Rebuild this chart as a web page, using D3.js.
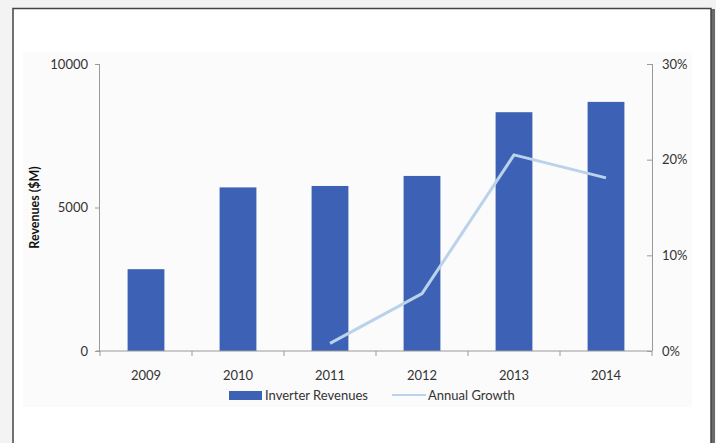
<!DOCTYPE html>
<html>
<head>
<meta charset="utf-8">
<script src="https://cdn.jsdelivr.net/npm/d3@7"></script>
<style>
  html, body { margin: 0; padding: 0; background: #f2f2f2; }
  svg { display: block; }
  text { font-family: Lato, "Open Sans", sans-serif; }
</style>
</head>
<body>
<svg id="chart" width="716" height="443"></svg>
<script>
// Inverter revenues ($M) and annual growth, 2009–2014
const years = ["2009", "2010", "2011", "2012", "2013", "2014"];
const revenues = [2850, 5700, 5750, 6100, 8320, 8680];
const growth = [null, null, 0.008, 0.06, 0.205, 0.181];
const revenueTicks = [0, 5000, 10000];
const growthTicks = [0, 0.1, 0.2, 0.3];

const svg = d3.select("#chart");
const W = 716, H = 443;

// frame with a drop shadow on the right
svg.append("rect").attr("x", 0).attr("y", 0).attr("width", W).attr("height", H).attr("fill", "#f3f3f3");
svg.append("rect").attr("x", 711).attr("y", 9).attr("width", 4).attr("height", H).attr("fill", "#6a6a6a");
svg.append("rect").attr("x", 13).attr("y", 8.5).attr("width", 698).attr("height", H).attr("fill", "#ffffff")
  .attr("stroke", "#444").attr("stroke-width", 1.5);
// chart area panel
svg.append("rect").attr("x", 23).attr("y", 52).attr("width", 669).attr("height", 355).attr("fill", "#fbfbfb");

const m = { left: 100, right: 652, top: 64, bottom: 351 };

const x = d3.scaleBand().domain(years).range([m.left, m.right]).paddingInner(0.6).paddingOuter(0.3);
const xEdges = d3.scaleLinear().domain([0, years.length]).range([m.left, m.right]);
const yL = d3.scaleLinear().domain([0, 10000]).range([m.bottom, m.top]);
const yR = d3.scaleLinear().domain([0, 0.3]).range([m.bottom, m.top]);

const axisColor = "#9a9a9a";
const labelColor = "#333";

// bars
svg.append("g").selectAll("rect").data(years).join("rect")
  .attr("x", d => x(d))
  .attr("width", x.bandwidth())
  .attr("y", (d, i) => yL(revenues[i]))
  .attr("height", (d, i) => yL(0) - yL(revenues[i]))
  .attr("fill", "#3c61b5");

// left axis
const gL = svg.append("g").attr("transform", `translate(${m.left},0)`)
  .call(d3.axisLeft(yL).tickValues(revenueTicks).tickSize(5).tickPadding(7).tickFormat(d3.format("d")));
// right axis
const gR = svg.append("g").attr("transform", `translate(${m.right},0)`)
  .call(d3.axisRight(yR).tickValues(growthTicks).tickSize(0).tickPadding(10).tickFormat(d3.format(".0%")));
gR.selectAll(".tick").append("line").attr("x1", -5).attr("x2", 0).attr("stroke", axisColor);

// bottom axis with ticks at category boundaries
const gB = svg.append("g").attr("transform", `translate(0,${m.bottom})`);
gB.append("line").attr("x1", m.left - 4).attr("x2", m.right).attr("stroke", axisColor);
gB.selectAll("line.edge").data(d3.range(years.length + 1)).join("line")
  .attr("class", "edge")
  .attr("x1", d => xEdges(d)).attr("x2", d => xEdges(d))
  .attr("y1", 0).attr("y2", 5).attr("stroke", axisColor);
gB.selectAll("text").data(years).join("text")
  .attr("x", d => x(d) + x.bandwidth() / 2)
  .attr("y", 29)
  .attr("text-anchor", "middle")
  .attr("font-size", 13)
  .attr("fill", labelColor)
  .text(d => d);

[gL, gR].forEach(g => {
  g.select(".domain").attr("stroke", axisColor);
  g.selectAll(".tick line").attr("stroke", axisColor);
  g.selectAll(".tick text").attr("font-size", 13).attr("fill", labelColor)
    .style("font-family", "Lato, sans-serif");
});
gL.select(".domain").attr("d", `M-0.5,${m.top}V${m.bottom}`);
gR.select(".domain").attr("d", `M0.5,${m.top}V${m.bottom}`);

// growth line
const pts = years.map((d, i) => ({ d, v: growth[i] })).filter(p => p.v !== null);
svg.append("path")
  .datum(pts)
  .attr("fill", "none")
  .attr("stroke", "#bad2ea")
  .attr("stroke-width", 3)
  .attr("stroke-linejoin", "round")
  .attr("d", d3.line().x(p => x(p.d) + x.bandwidth() / 2).y(p => yR(p.v)));

// y-axis title
svg.append("text")
  .attr("transform", `translate(39,${(m.top + m.bottom) / 2}) rotate(-90)`)
  .attr("text-anchor", "middle")
  .attr("font-size", 12.5)
  .attr("font-weight", "bold")
  .attr("fill", "#111")
  .text("Revenues ($M)");

// legend
const lg = svg.append("g").attr("transform", "translate(0,395)");
lg.append("rect").attr("x", 229).attr("y", -4).attr("width", 33).attr("height", 9).attr("fill", "#3c61b5");
lg.append("text").attr("x", 265).attr("y", 5).attr("font-size", 13).attr("fill", labelColor).text("Inverter Revenues");
lg.append("line").attr("x1", 392).attr("x2", 426).attr("y1", 0).attr("y2", 0).attr("stroke", "#bad2ea").attr("stroke-width", 2);
lg.append("text").attr("x", 428).attr("y", 5).attr("font-size", 13).attr("fill", labelColor).text("Annual Growth");
</script>
</body>
</html>
